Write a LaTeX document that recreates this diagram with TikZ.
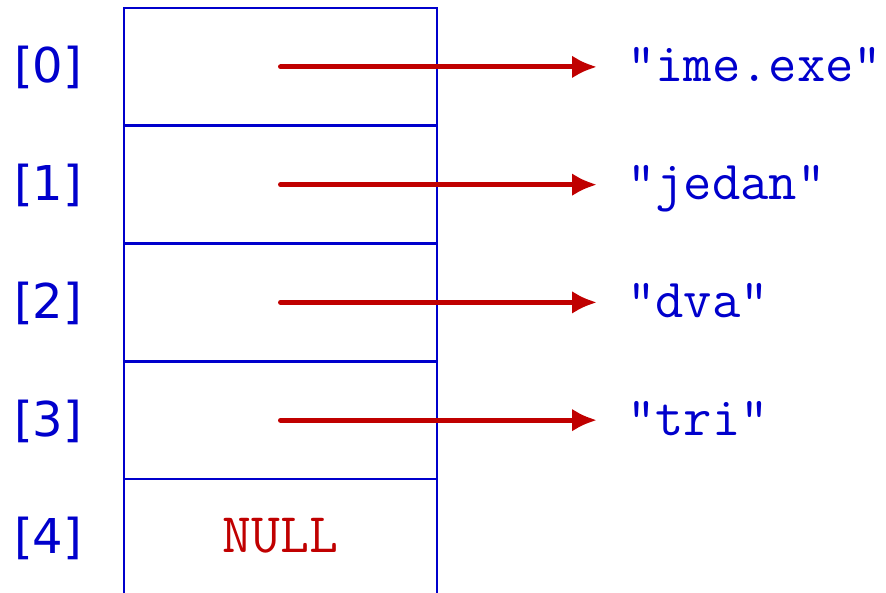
\documentclass[tikz,border=0pt]{standalone}
\usepackage{fontspec}
\usetikzlibrary{arrows.meta}
\newfontfamily\idxfont{DejaVu Sans}
\definecolor{cellblue}{RGB}{0,0,204}
\definecolor{ptrred}{RGB}{192,0,0}
\begin{document}
\begin{tikzpicture}[x=1pt,y=-1pt,
  cell/.style={minimum width=313pt,minimum height=117.75pt,inner sep=0pt,outer sep=0pt},
  boxed/.style={cell,draw=cellblue,line width=2.8pt},
  idx/.style={anchor=base,text=cellblue,inner sep=0pt,font=\idxfont\fontsize{48}{56}\selectfont},
  str/.style={anchor=base west,text=cellblue,inner sep=0pt,font=\ttfamily\fontsize{55}{64}\selectfont},
  ptr/.style={draw=ptrred,line width=5pt,line cap=round,-{Latex[length=25pt,width=23pt]},shorten >=30pt}]
\useasboundingbox (0,0) rectangle (886,592);
% the array cells
\foreach \i in {0,1,2,3}{
  \node[boxed] (c\i) at (280.5,{66.9+117.75*\i}) {};
}
\node[cell] (c4) at (280.5,{66.9+117.75*4}) {};
\node[anchor=base,text=ptrred,inner sep=0pt,font=\ttfamily\fontsize{56}{64}\selectfont] (null) at ([yshift=-15pt]c4.center) {NULL};
\draw[cellblue,line width=2.8pt] (c4.north west) -- (c4.north west |- 0,600)
  (c4.north east) -- (c4.north east |- 0,600);
% indices
\foreach \i in {0,...,4}{
  \node[idx] (i\i) at ([yshift=-16pt]c\i.center -| 48,0) {[\i]};
}
% the strings pointed to
\node[str] (s0) at ([yshift=-15pt]c0.center -| 627,0) {"ime.exe"};
\node[str] (s1) at ([yshift=-15pt]c1.center -| 627,0) {"jedan"};
\node[str] (s2) at ([yshift=-15pt]c2.center -| 627,0) {"dva"};
\node[str] (s3) at ([yshift=-15pt]c3.center -| 627,0) {"tri"};
% pointers
\foreach \i in {0,1,2,3}{
  \draw[ptr] (c\i.center) -- (c\i.center -| s\i.west);
}
\end{tikzpicture}
\end{document}
